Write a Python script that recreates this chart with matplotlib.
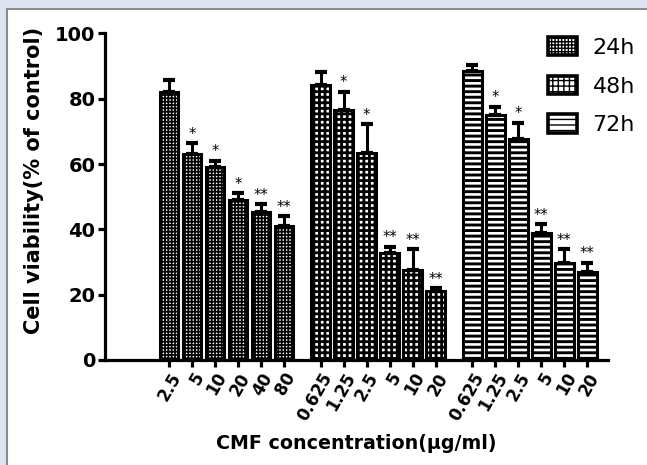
import matplotlib
matplotlib.use("Agg")
import matplotlib.pyplot as plt
from matplotlib.patches import Rectangle, Patch
import numpy as np

plt.rcParams['font.family'] = ['DejaVu Sans']

# data
labels_24 = ['2.5', '5', '10', '20', '40', '80']
labels_48 = ['0.625', '1.25', '2.5', '5', '10', '20']
labels_72 = ['0.625', '1.25', '2.5', '5', '10', '20']

vals_24 = [82.2, 63.1, 59.2, 49.0, 45.4, 41.0]
vals_48 = [84.2, 76.6, 63.5, 32.6, 27.5, 21.1]
vals_72 = [88.6, 75.0, 67.6, 39.0, 29.6, 26.8]

err_24 = [3.5, 3.2, 1.8, 2.0, 2.3, 3.1]
err_48 = [4.1, 5.6, 8.8, 2.1, 6.4, 0.8]
err_72 = [1.7, 2.6, 5.1, 2.6, 4.3, 3.0]

stars_24 = ['', '*', '*', '*', '**', '**']
stars_48 = ['', '*', '*', '**', '**', '**']
stars_72 = ['', '*', '*', '**', '**', '**']

series = ['24h', '48h', '72h']
hatches = ['+' * 5, '+++', '---']
hatch_lw = [1.25, 2.0, 2.1]

fig = plt.figure(figsize=(6.47, 4.65), dpi=100, facecolor='#dfe3f1')
# white inner panel
fig.patches.append(Rectangle((7 / 647, -0.01), 1.0, 1 - 9 / 465 + 0.01,
                             transform=fig.transFigure, facecolor='white',
                             edgecolor='#8c8c8c', linewidth=1.5, zorder=-5))

ax = fig.add_axes([105 / 647, 1 - 359.8 / 465, 503 / 647, 326.3 / 465])
ax.set_facecolor('none')

offsets = [0, 6.6, 13.2]
all_vals = [vals_24, vals_48, vals_72]
all_errs = [err_24, err_48, err_72]
all_stars = [stars_24, stars_48, stars_72]
all_labels = [labels_24, labels_48, labels_72]

ticks = []
ticklabels = []
handles = []
for g in range(3):
    x = offsets[g] + np.arange(len(all_vals[g]))
    with plt.rc_context({'hatch.linewidth': hatch_lw[g]}):
        ax.bar(x, all_vals[g], width=0.8, facecolor='white', edgecolor='black',
               linewidth=2.2, hatch=hatches[g], zorder=2)
        handles.append(Patch(facecolor='white', edgecolor='black', linewidth=2.6,
                             hatch=hatches[g], label=series[g]))
    ax.errorbar(x, all_vals[g], yerr=[np.zeros(len(x)), all_errs[g]], fmt='none',
                ecolor='black', elinewidth=2.2, capsize=4.5, capthick=3, zorder=3)
    for xi, v, e, s in zip(x, all_vals[g], all_errs[g], all_stars[g]):
        if s:
            ax.text(xi, v + e + 0.4, s, ha='center', va='bottom', fontsize=10.5)
    ticks.extend(x)
    ticklabels.extend(all_labels[g])

ax.set_xlim(-2.78, 19.1)
ax.set_ylim(0, 100)
ax.set_yticks([0, 20, 40, 60, 80, 100])
ax.set_xticks(ticks)
ax.set_xticklabels(ticklabels, rotation=60, ha='right', rotation_mode='anchor',
                   fontsize=12, fontweight='bold')
for lab in ax.get_yticklabels():
    lab.set_fontsize(14)
    lab.set_fontweight('bold')

for side in ['top', 'right']:
    ax.spines[side].set_visible(False)
for side in ['left', 'bottom']:
    ax.spines[side].set_linewidth(2.3)
ax.tick_params(width=2.3, length=5, direction='out', pad=2)

ax.set_ylabel('Cell viability(% of control)', fontsize=15, fontweight='bold')
ax.yaxis.label.set_va('center')
ax.yaxis.set_label_coords(-0.141, 0.55)
ax.set_xlabel('CMF concentration(\u03bcg/ml)', fontsize=13.7, fontweight='bold')
ax.xaxis.label.set_va('center')
ax.xaxis.set_label_coords(0.5, -0.255)

ax.legend(handles=handles, loc='upper left', bbox_to_anchor=(548 / 647, 1 - 37 / 465),
          bbox_transform=fig.transFigure, borderpad=0, borderaxespad=0,
          frameon=False, fontsize=16, handlelength=1.3, handleheight=0.9,
          labelspacing=0.8, handletextpad=0.7)

fig.savefig('out.png', dpi=100, facecolor=fig.get_facecolor())
